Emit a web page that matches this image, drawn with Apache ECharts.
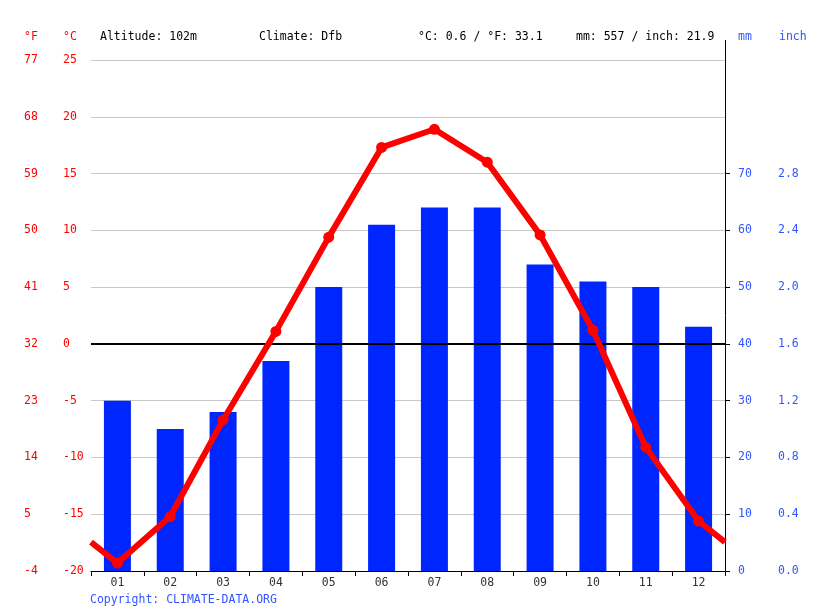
<!DOCTYPE html>
<html>
<head>
<meta charset="utf-8">
<script src="https://cdn.jsdelivr.net/npm/echarts@6/dist/echarts.min.js"></script>
<style>html,body{margin:0;padding:0;background:#fff;}#c{width:815px;height:611px;}</style>
</head>
<body>
<div id="c"></div>
<script>
var months = ['01','02','03','04','05','06','07','08','09','10','11','12'];
var tempC = [-19.3, -15.2, -6.7, 1.1, 9.4, 17.3, 18.9, 16.0, 9.6, 1.2, -9.1, -15.6];
var precipMm = [30, 25, 28, 37, 50, 61, 64, 64, 54, 51, 50, 43];
var cTicks = [-20, -15, -10, -5, 0, 5, 10, 15, 20, 25];
var fTicks = [-4, 5, 14, 23, 32, 41, 50, 59, 68, 77];
var mmTicks = [0, 10, 20, 30, 40, 50, 60, 70];
var inchTicks = ['0.0', '0.4', '0.8', '1.2', '1.6', '2.0', '2.4', '2.8'];
var headerTexts = {
  altitude: 'Altitude: 102m',
  climate: 'Climate: Dfb',
  temp: '°C: 0.6 / °F: 33.1',
  precip: 'mm: 557 / inch: 21.9'
};

var FONT = '"DejaVu Sans Mono", monospace';
var FS = 11.5;
var RED = '#ff0000';
var BLUE = '#0026ff';
var LBLUE = '#3355ff';

// line data placed at category centres; ends join Dec and Jan across the year boundary
var edge = (tempC[0] + tempC[tempC.length - 1]) / 2;
var lineData = [{value: [0, edge], symbol: 'none'}];
tempC.forEach(function (t, i) { lineData.push([i + 0.5, t]); });
lineData.push({value: [12, edge], symbol: 'none'});

function txt(x, y, s, color) {
  return {type: 'text', left: x, top: y, style: {text: s, fill: color, font: FS + 'px ' + FONT}};
}

var chart = echarts.init(document.getElementById('c'));
chart.setOption({
  animation: false,
  backgroundColor: '#fff',
  grid: {left: 91, right: 90, top: 60, bottom: 40, containLabel: false},
  xAxis: [
    {
      type: 'category', data: months, boundaryGap: true,
      axisLine: {show: true, onZero: false, lineStyle: {color: '#000', width: 1}},
      axisTick: {show: true, alignWithLabel: false, length: 5, lineStyle: {color: '#000'}},
      axisLabel: {color: '#333', fontFamily: FONT, fontSize: FS, margin: 6},
      splitLine: {show: false}
    },
    {
      type: 'value', min: 0, max: 12, show: false
    }
  ],
  yAxis: [
    {
      type: 'value', min: -20, max: 25, interval: 5, position: 'left',
      axisLine: {show: false}, axisTick: {show: false},
      axisLabel: {color: RED, fontFamily: FONT, fontSize: FS, align: 'left', margin: 28},
      splitLine: {show: true, lineStyle: {color: '#c8c8c8', width: 1}}
    },
    {
      type: 'value', min: -20, max: 25, interval: 5, position: 'left',
      axisLine: {show: false}, axisTick: {show: false},
      axisLabel: {color: RED, fontFamily: FONT, fontSize: FS, align: 'left', margin: 67,
        formatter: function (v) { var i = cTicks.indexOf(v); return i >= 0 ? String(fTicks[i]) : ''; }},
      splitLine: {show: false}
    },
    {
      type: 'value', min: 0, max: 90, interval: 10, position: 'right',
      axisLine: {show: true, onZero: false, lineStyle: {color: '#000', width: 1}},
      axisTick: {show: true, length: 5, lineStyle: {color: '#000'}, customValues: mmTicks},
      axisLabel: {color: LBLUE, fontFamily: FONT, fontSize: FS, align: 'left', margin: 13,
        customValues: mmTicks},
      splitLine: {show: false}
    },
    {
      type: 'value', min: 0, max: 90, interval: 10, position: 'right',
      axisLine: {show: false}, axisTick: {show: false},
      axisLabel: {color: LBLUE, fontFamily: FONT, fontSize: FS, align: 'left', margin: 53,
        customValues: mmTicks,
        formatter: function (v) { var i = mmTicks.indexOf(v); return i >= 0 ? inchTicks[i] : ''; }},
      splitLine: {show: false}
    }
  ],
  series: [
    {
      type: 'bar', xAxisIndex: 0, yAxisIndex: 2, data: precipMm, barWidth: 27,
      itemStyle: {color: BLUE}, z: 2
    },
    {
      type: 'line', xAxisIndex: 1, yAxisIndex: 0, data: lineData,
      symbol: 'circle', symbolSize: 11,
      lineStyle: {color: RED, width: 6}, itemStyle: {color: RED}, z: 4,
      markLine: {
        silent: true, symbol: 'none', label: {show: false},
        lineStyle: {color: '#000', width: 2, type: 'solid'},
        data: [{yAxis: 0}], z: 3
      }
    }
  ],
  graphic: [
    {type: 'line', shape: {x1: 725.5, y1: 40, x2: 725.5, y2: 61}, style: {stroke: '#000', lineWidth: 1}},
    txt(24, 31, '°F', RED),
    txt(63, 31, '°C', RED),
    txt(100, 31, headerTexts.altitude, '#000'),
    txt(259, 31, headerTexts.climate, '#000'),
    txt(418, 31, headerTexts.temp, '#000'),
    txt(576, 31, headerTexts.precip, '#000'),
    txt(738, 31, 'mm', LBLUE),
    txt(779, 31, 'inch', LBLUE),
    txt(90, 594, 'Copyright: CLIMATE-DATA.ORG', LBLUE)
  ]
});
</script>
</body>
</html>
